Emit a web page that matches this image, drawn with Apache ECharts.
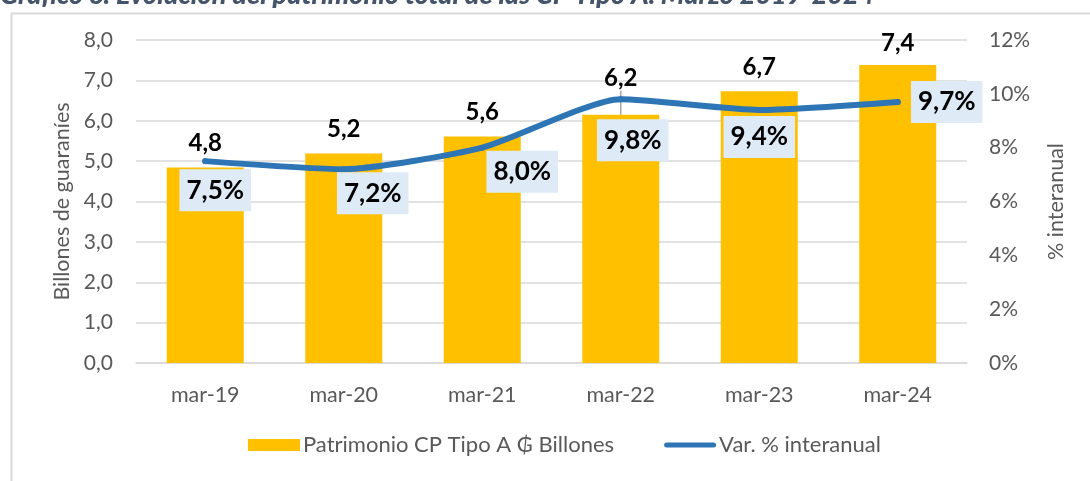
<!DOCTYPE html>
<html>
<head>
<meta charset="utf-8">
<script src="https://cdn.jsdelivr.net/npm/echarts@6/dist/echarts.min.js"></script>
<style>
html,body{margin:0;padding:0;background:#fff;}
#chart{width:1090px;height:481px;}
</style>
</head>
<body>
<div id="chart"></div>
<script>
const categories = ['mar-19','mar-20','mar-21','mar-22','mar-23','mar-24'];
const patrimonio = [4.84, 5.19, 5.61, 6.15, 6.73, 7.38];
const variacion = [7.5, 7.2, 8.0, 9.8, 9.4, 9.7];
const leftTicks = {min: 0, max: 8, interval: 1};
const rightTicks = {min: 0, max: 12, interval: 2};

const barLabelShift = [0, 0, 0, -12, 0, 2];
const lineLabelOffset = [[10, 29], [29, 24], [40, 24], [12, 41], [0, 27], [49, 0]];

const FONT = 'Lato';
const chart = echarts.init(document.getElementById('chart'));

const option = {
  backgroundColor: '#fff',
  animation: false,
  textStyle: {fontFamily: FONT},
  graphic: [
    {type: 'rect', left: 9, top: 11, shape: {width: 1100, height: 500},
     style: {fill: 'none', stroke: '#D9D9D9', lineWidth: 2}, z: -1},
    {type: 'text', left: 0, top: -18,
     style: {text: 'Gráfico 6: Evolución del patrimonio total de las CP Tipo A. Marzo 2019-2024',
             font: 'italic 900 27px Lato', fill: '#44546A'}}
  ],
  grid: {left: 136, right: 123, top: 40, bottom: 118},
  legend: {
    bottom: 20, left: 243, itemGap: 50, itemWidth: 52, itemHeight: 12,
    textStyle: {color: '#595959', fontSize: 22, fontFamily: FONT, padding: [0,0,0,-2]},
    data: [
      {name: 'Patrimonio CP Tipo A ₲ Billones', icon: 'rect'},
      {name: 'Var. % interanual', icon: 'path://M2.5,0 H49.5 A2.5,2.5 0 0 1 49.5,5 H2.5 A2.5,2.5 0 0 1 2.5,0 Z'}
    ]
  },
  xAxis: {
    type: 'category', data: categories,
    axisLine: {lineStyle: {color: '#D9D9D9', width: 1.5}},
    axisTick: {show: false},
    axisLabel: {color: '#595959', fontSize: 21.5, margin: 21}
  },
  yAxis: [
    {
      type: 'value', min: leftTicks.min, max: leftTicks.max, interval: leftTicks.interval,
      name: 'Billones de guaraníes', nameLocation: 'middle', nameGap: 57,
      nameTextStyle: {color: '#595959', fontSize: 21.5},
      axisLine: {show: false}, axisTick: {show: false},
      splitLine: {lineStyle: {color: '#D9D9D9', width: 1.5}},
      axisLabel: {color: '#595959', fontSize: 21, margin: 23,
        formatter: v => v.toFixed(1).replace('.', ',')}
    },
    {
      type: 'value', min: rightTicks.min, max: rightTicks.max, interval: rightTicks.interval,
      name: '% interanual', nameLocation: 'middle', nameGap: 78, nameRotate: 90,
      nameTextStyle: {color: '#595959', fontSize: 21.5},
      axisLine: {show: false}, axisTick: {show: false}, splitLine: {show: false},
      axisLabel: {color: '#595959', fontSize: 21, margin: 22, formatter: v => v + '%'}
    }
  ],
  series: [
    {
      name: 'Patrimonio CP Tipo A ₲ Billones', type: 'bar', yAxisIndex: 0,
      barWidth: 77, itemStyle: {color: '#FFC000'},
      data: patrimonio.map((v, i) => ({
        value: v,
        labelLine: {show: barLabelShift[i] < 0}
      })),
      label: {show: true, position: 'top', distance: 12, color: '#000', fontSize: 24, fontWeight: 'bold',
        formatter: p => p.value.toFixed(1).replace('.', ',')},
      labelLayout: p => ({dy: barLabelShift[p.dataIndex]}),
      labelLine: {show: false, lineStyle: {color: '#A6A6A6', width: 1.5}},
      z: 2
    },
    {
      name: 'Var. % interanual', type: 'line', yAxisIndex: 1,
      smooth: 0.2, symbol: 'circle', symbolSize: 6,
      itemStyle: {color: '#2E75B6'},
      lineStyle: {color: '#2E75B6', width: 6, cap: 'round', join: 'round'},
      data: variacion.map((v, i) => ({
        value: v,
        label: {offset: lineLabelOffset[i]}
      })),
      label: {show: true, position: 'inside', color: '#000', fontSize: 26, fontWeight: 'bold',
        backgroundColor: '#DEEBF7', padding: [9, 7, 7, 7],
        formatter: p => p.value.toFixed(1).replace('.', ',') + '%'},
      z: 5
    }
  ]
};
chart.setOption(option);
</script>
</body>
</html>
